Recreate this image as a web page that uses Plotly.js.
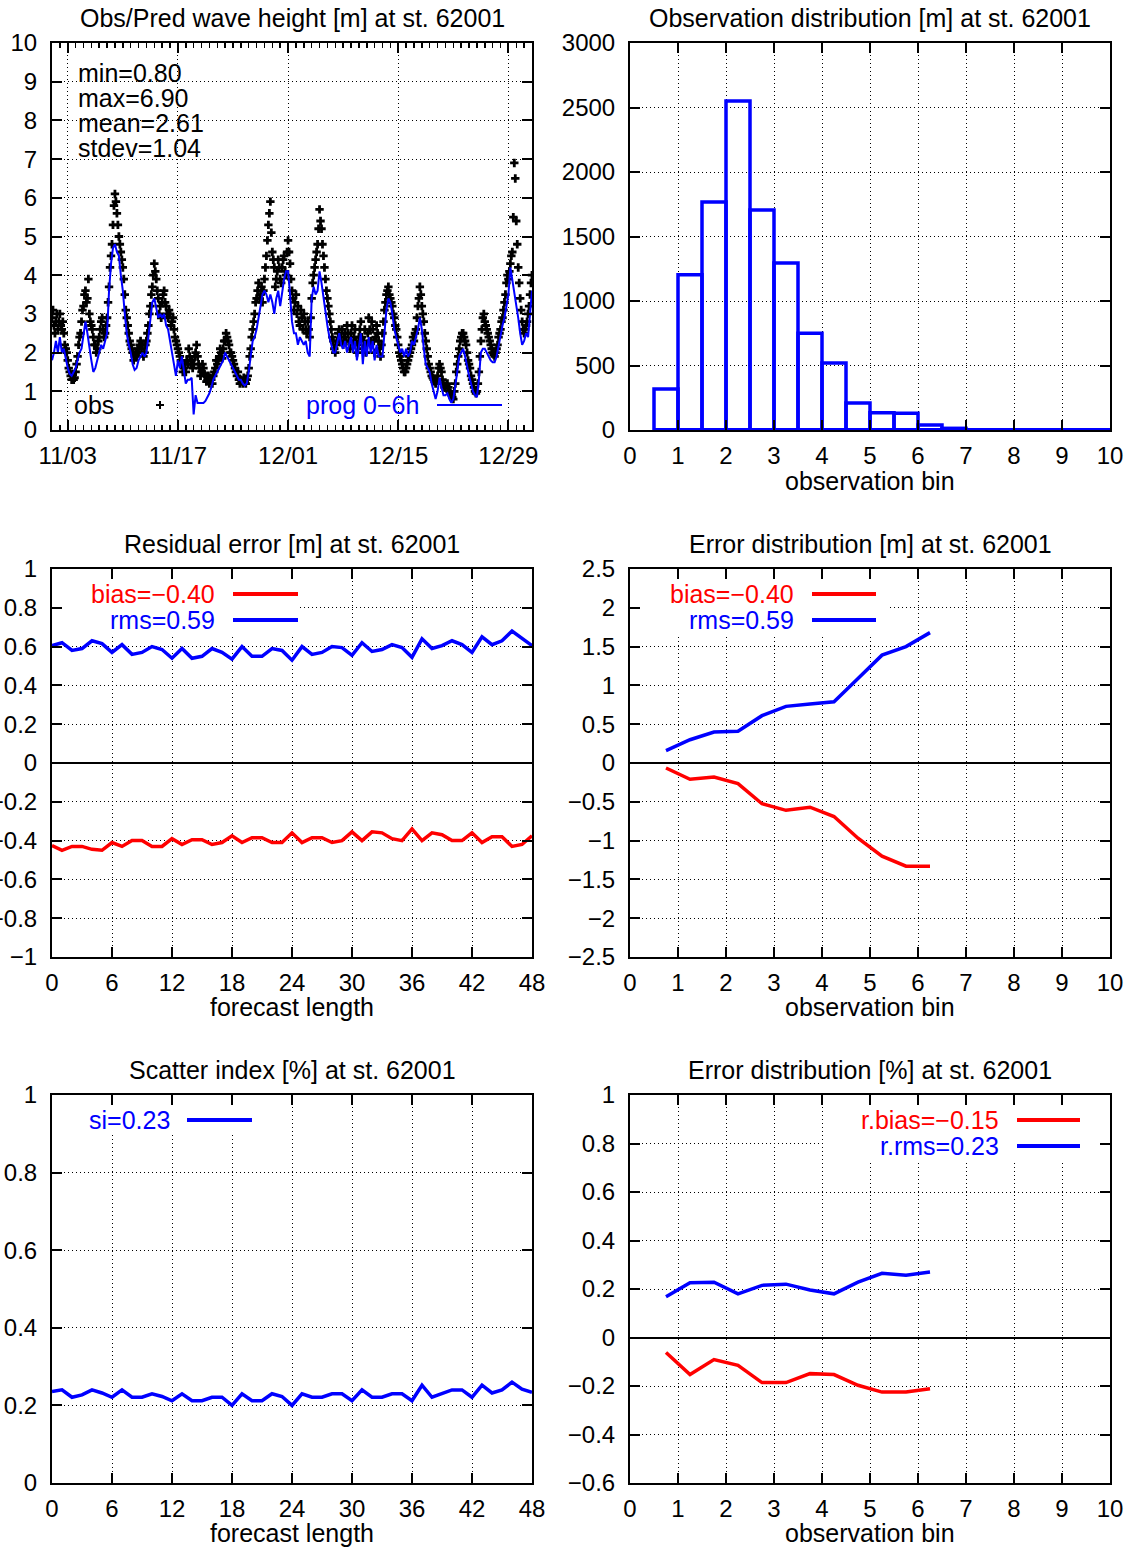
<!DOCTYPE html>
<html>
<head>
<meta charset="utf-8">
<script src="https://cdn.plot.ly/plotly-3.0.1.min.js"></script>
<style>
  html, body { margin: 0; padding: 0; background: #fff; }
  #chart { width: 1137px; height: 1548px; }
</style>
</head>
<body>
<div id="chart"></div>
<script>
// station 62001 verification, Nov-Dec

// obs / prog 0-6h wave height, one value every 6 hours from 11/01 00h
const seriesStart = Date.UTC(2011, 10, 1);
const stepHours = 6;
const obsHs = [
  2.9,2.7,2.8,2.6, // 11/01
  3.0,2.6,2.5,2.1,
  1.8,1.5,1.3,1.3,
  1.5,1.9,2.4,2.8,
  3.2,3.6,3.4,3.0, // 11/05
  2.7,2.4,2.2,2.1,
  2.4,2.8,2.6,2.5,
  2.9,3.7,4.5,5.3,
  6.1,5.6,5.0,4.6,
  4.2,3.5,2.9,2.5, // 11/10
  2.2,2.0,1.9,1.9,
  2.0,2.3,2.2,2.0,
  2.3,2.7,3.2,3.7,
  4.3,3.9,3.4,3.2,
  3.3,3.6,3.2,2.9, // 11/15
  3.0,2.8,2.6,2.3,
  2.1,1.9,1.7,1.6,
  1.5,1.7,1.9,1.8,
  1.7,2.0,1.9,1.6,
  1.5,1.6,1.4,1.3, // 11/20
  1.2,1.3,1.4,1.6,
  1.7,1.9,2.0,2.1,
  2.3,2.4,2.2,2.0,
  1.8,1.6,1.4,1.3,
  1.3,1.2,1.25,1.3, // 11/25
  1.6,2.1,2.6,3.0,
  3.4,3.8,3.5,3.3,
  3.9,4.5,5.3,5.9,
  4.6,4.2,3.9,4.4,
  3.9,4.2,4.5,4.0, // 11/30
  4.9,4.3,3.6,3.1, // 12/01
  3.5,3.2,2.7,2.9,
  3.0,2.6,2.8,2.4,
  3.4,4.0,4.4,4.8,
  5.7,5.2,4.5,3.9, // 12/05
  3.4,3.0,2.6,2.3,
  2.0,2.3,2.6,2.4,
  2.2,2.5,2.7,2.3,
  2.5,2.2,2.6,2.0,
  2.4,2.8,2.1,2.6, // 12/10
  2.2,2.9,2.3,2.6,
  2.0,2.7,2.3,1.9,
  2.5,3.1,3.5,3.7,
  3.4,3.2,2.9,2.6,
  2.2,1.9,1.7,1.5, // 12/15
  1.6,1.8,2.0,2.2,
  2.3,2.6,3.2,3.7,
  3.2,2.8,2.3,1.9,
  1.6,1.4,1.3,1.2,
  1.4,1.7,1.5,1.2, // 12/20
  1.1,1.2,1.0,0.9,
  0.8,1.2,1.7,2.1,
  2.4,2.5,2.3,2.0,
  1.7,1.4,1.2,1.0,
  1.0,1.5,2.3,2.9, // 12/25
  2.8,2.6,2.4,2.2,
  2.0,1.9,2.1,2.4,
  2.6,2.9,3.3,3.8,
  3.9,4.3,4.6,6.9,
  5.4,4.2,3.4,2.8, // 12/30
  2.5,2.7,3.0,3.5,
  4.0
];
// obs in between, at 03h, 09h, 15h and 21h
const obsHsMid = [
  3.1,2.5,3.0,2.8, // 11/01
  2.7,2.8,2.2,2.0,
  1.6,1.4,1.45,1.35,
  1.7,2.2,2.5,3.1,
  3.5,3.3,3.9,2.8, // 11/05
  2.6,2.2,2.0,2.3,
  2.6,2.9,2.4,2.7,
  3.3,4.2,4.8,5.8,
  5.9,5.3,4.8,4.4,
  3.9,3.1,2.7,2.3, // 11/10
  2.1,1.8,2.0,2.1,
  2.2,2.1,1.9,2.2,
  2.5,3.0,3.5,4.0,
  4.1,3.6,3.0,2.9,
  3.5,3.3,3.0,3.1, // 11/15
  2.7,2.9,2.4,2.2,
  2.0,1.8,1.5,1.7,
  1.8,2.1,1.7,1.6,
  1.9,2.2,1.7,1.4,
  1.7,1.45,1.25,1.4, // 11/20
  1.35,1.2,1.5,1.8,
  1.8,2.1,1.85,2.3,
  2.5,2.3,2.0,1.9,
  1.7,1.5,1.5,1.2,
  1.25,1.35,1.2,1.4, // 11/25
  1.9,2.4,2.8,3.3,
  3.6,3.4,3.7,3.6,
  4.2,4.9,5.6,5.1,
  4.4,3.7,4.1,4.2,
  3.8,4.4,4.1,4.6, // 11/30
  4.6,3.9,3.4,3.3, // 12/01
  3.0,2.8,3.1,2.6,
  2.8,2.5,2.6,2.9,
  3.8,4.2,4.6,5.2,
  5.4,4.8,4.2,3.6, // 12/05
  3.2,2.8,2.4,2.1,
  2.2,2.5,2.3,2.6,
  2.4,2.3,2.5,2.1,
  2.7,2.4,2.3,2.2,
  2.6,2.4,2.3,2.0, // 12/10
  2.5,2.6,2.8,2.3,
  2.4,2.5,2.1,2.2,
  2.8,3.3,3.6,3.5,
  3.3,3.0,2.7,2.4,
  2.0,1.8,1.6,1.5, // 12/15
  1.7,1.9,2.1,2.4,
  2.5,2.9,3.4,3.5,
  3.0,2.5,2.1,1.7,
  1.5,1.35,1.25,1.3,
  1.6,1.6,1.3,1.1, // 12/20
  1.15,1.1,0.95,0.85,
  1.0,1.5,1.9,2.3,
  2.5,2.4,2.2,1.8,
  1.6,1.3,1.1,0.95,
  1.2,1.9,2.6,3.0, // 12/25
  2.7,2.5,2.3,2.1,
  1.95,2.0,2.2,2.5,
  2.8,3.1,3.5,4.0,
  4.1,4.5,5.5,6.5,
  4.8,3.8,3.1,2.6, // 12/30
  2.6,2.8,3.2,3.8
];
const progHs = [
  1.8,2.0,2.3,2.0, // 11/01
  2.4,2.0,2.1,1.8,
  1.6,1.45,1.4,1.5,
  1.6,1.8,2.0,2.1,
  2.5,2.8,2.5,2.1, // 11/05
  1.8,1.5,1.6,1.8,
  2.0,2.2,2.1,2.3,
  2.5,3.6,4.3,4.7,
  4.8,4.6,4.5,4.0,
  3.6,3.0,2.5,2.2, // 11/10
  2.0,1.7,1.55,1.6,
  1.8,1.9,2.0,1.9,
  2.0,2.4,2.9,3.3,
  3.4,3.1,2.9,3.0,
  2.9,3.0,2.7,2.6, // 11/15
  2.3,2.0,1.7,1.4,
  1.8,1.6,1.9,1.5,
  1.2,1.3,1.3,1.35,
  0.4,0.9,0.7,0.7,
  0.7,0.7,0.75,0.85, // 11/20
  0.95,1.1,1.3,1.4,
  1.5,1.6,1.7,1.8,
  2.0,1.9,1.8,1.7,
  1.6,1.5,1.4,1.3,
  1.3,1.2,1.15,1.2, // 11/25
  1.5,1.9,2.3,2.4,
  2.6,2.9,3.2,3.5,
  3.6,3.5,3.3,3.5,
  3.3,3.0,3.4,3.6,
  3.2,3.6,3.9,4.1, // 11/30
  4.1,3.5,2.8,2.5, // 12/01
  2.5,2.2,2.4,2.3,
  2.2,2.3,2.0,1.9,
  3.4,3.7,3.5,3.6,
  4.1,3.8,3.4,3.0, // 12/05
  2.7,2.4,2.2,2.0,
  2.0,2.3,2.5,2.2,
  2.1,2.3,2.0,2.2,
  2.4,2.0,2.3,1.8,
  2.1,2.5,1.7,2.3, // 12/10
  1.9,2.4,2.0,2.3,
  1.8,2.2,1.9,1.9,
  1.9,2.5,3.1,3.4,
  3.3,3.0,2.6,2.4,
  2.2,2.0,2.1,1.9, // 12/15
  2.1,1.9,2.0,2.3,
  2.2,2.4,2.6,2.9,
  2.6,2.1,1.7,1.6,
  1.5,1.2,1.0,0.8,
  1.0,1.35,1.1,0.9, // 12/20
  0.9,0.95,0.8,0.7,
  0.8,1.1,1.5,1.9,
  2.0,2.1,1.9,1.6,
  1.4,1.2,1.0,0.9,
  0.85,1.3,2.0,2.1, // 12/25
  2.1,2.0,1.9,1.8,
  1.75,1.75,1.9,2.2,
  2.4,2.7,2.9,3.2,
  3.5,4.2,3.9,3.6,
  3.2,2.9,2.5,2.2, // 12/30
  2.3,2.5,2.4,3.0,
  3.6
];
const statLines = ['min=0.80', 'max=6.90', 'mean=2.61', 'stdev=1.04'];

// observation histogram, 0.5 m bins
const histCenters = [0.75,1.25,1.75,2.25,2.75,3.25,3.75,4.25,4.75,5.25,5.75,6.25,6.75,7.25,7.75,8.25,8.75,9.25,9.75];
const histCounts  = [318,1204,1767,2550,1705,1294,750,520,209,134,130,39,13,0,0,0,0,0,0];
const histWidth = 0.5;

// residual error vs forecast length (hours 0..48)
const leadBias = [-0.425,-0.45,-0.43,-0.43,-0.445,-0.45,-0.41,-0.43,-0.40,-0.40,-0.43,-0.43,-0.39,-0.42,-0.395,-0.395,-0.42,-0.41,-0.375,-0.41,-0.385,-0.385,-0.41,-0.41,-0.36,-0.41,-0.385,-0.385,-0.41,-0.40,-0.355,-0.40,-0.355,-0.36,-0.39,-0.40,-0.34,-0.40,-0.36,-0.37,-0.40,-0.40,-0.36,-0.41,-0.38,-0.38,-0.43,-0.42,-0.375];
const leadRms  = [0.605,0.62,0.58,0.59,0.63,0.615,0.57,0.61,0.56,0.57,0.60,0.585,0.54,0.59,0.54,0.55,0.59,0.57,0.535,0.60,0.55,0.55,0.59,0.58,0.53,0.60,0.56,0.57,0.60,0.595,0.555,0.62,0.575,0.585,0.61,0.595,0.545,0.64,0.59,0.605,0.63,0.61,0.57,0.65,0.61,0.63,0.68,0.645,0.605];
const leadSi   = [0.236,0.240,0.221,0.227,0.240,0.232,0.221,0.240,0.221,0.221,0.230,0.223,0.212,0.230,0.212,0.212,0.221,0.221,0.200,0.230,0.212,0.212,0.230,0.223,0.200,0.230,0.221,0.221,0.230,0.230,0.212,0.240,0.221,0.221,0.230,0.230,0.212,0.252,0.221,0.230,0.240,0.240,0.221,0.252,0.232,0.240,0.260,0.242,0.234];
const leadHours = leadBias.map((v, i) => i);

// error vs observation bin
const binCenters = [0.75,1.25,1.75,2.25,2.75,3.25,3.75,4.25,4.75,5.25,5.75,6.25];
const binBias  = [-0.065,-0.21,-0.18,-0.265,-0.525,-0.61,-0.57,-0.69,-0.97,-1.20,-1.33,-1.33];
const binRms   = [0.16,0.30,0.40,0.41,0.61,0.73,0.76,0.79,1.09,1.39,1.50,1.68];
const binRBias = [-0.062,-0.153,-0.091,-0.115,-0.186,-0.186,-0.149,-0.153,-0.197,-0.225,-0.225,-0.211];
const binRRms  = [0.168,0.226,0.228,0.180,0.215,0.220,0.196,0.180,0.228,0.265,0.257,0.270];

const W = 1137, H = 1548;
const fontFam = 'Liberation Sans, Arial, Helvetica, sans-serif';
const RED = '#ff0000', BLUE = '#0000ff';

function px(x) { return x / W; }
function py(y) { return 1 - y / H; }

const colL = [px(52), px(532)], colR = [px(630), px(1110)];
const rowT = [py(430), py(43)], rowM = [py(957), py(569)], rowB = [py(1483), py(1095)];

function ax(extra) {
  return Object.assign({
    showline: true, mirror: 'allticks', linecolor: 'black', linewidth: 2,
    ticks: 'inside', ticklen: 10, tickwidth: 2, tickcolor: 'black',
    ticklabelstandoff: 8,
    showgrid: true, gridcolor: '#000', gridwidth: 1, griddash: '1px,3px',
    zeroline: false, tickfont: {family: fontFam, size: 24, color: 'black'},
    fixedrange: true
  }, extra);
}
function xax(extra) { return ax(Object.assign({ticklabelstandoff: 3}, extra)); }

const hour = 3600e3;
const obsTimes = obsHs.map((v, i) => seriesStart + i * stepHours * hour);
const obsMidTimes = obsHsMid.map((v, i) => seriesStart + (i * stepHours + 3) * hour);
const progTimes = progHs.map((v, i) => seriesStart + i * stepHours * hour);
const histEdges = [histCenters[0] - histWidth / 2, histCenters[histCenters.length - 1] + histWidth / 2];
const plusMarker = {symbol: 'cross', size: 7, color: 'black'};

const data = [
  {x: obsTimes, y: obsHs, xaxis: 'x', yaxis: 'y', mode: 'markers', type: 'scatter', marker: plusMarker},
  {x: obsMidTimes, y: obsHsMid, xaxis: 'x', yaxis: 'y', mode: 'markers', type: 'scatter', marker: plusMarker},
  {x: progTimes, y: progHs, xaxis: 'x', yaxis: 'y', mode: 'lines', type: 'scatter',
   line: {color: BLUE, width: 2}},

  {x: histCenters, y: histCounts, xaxis: 'x2', yaxis: 'y2', type: 'bar', width: histWidth,
   marker: {color: 'rgba(0,0,0,0)', line: {color: BLUE, width: 3.5}}},
  {x: histEdges, y: [0, 0], xaxis: 'x2', yaxis: 'y2', mode: 'lines', type: 'scatter',
   line: {color: BLUE, width: 4}, cliponaxis: false},

  {x: leadHours, y: leadBias, xaxis: 'x3', yaxis: 'y3', mode: 'lines', line: {color: RED, width: 3.5}},
  {x: leadHours, y: leadRms, xaxis: 'x3', yaxis: 'y3', mode: 'lines', line: {color: BLUE, width: 3.5}},

  {x: binCenters, y: binBias, xaxis: 'x4', yaxis: 'y4', mode: 'lines', line: {color: RED, width: 3.5}},
  {x: binCenters, y: binRms, xaxis: 'x4', yaxis: 'y4', mode: 'lines', line: {color: BLUE, width: 3.5}},

  {x: leadHours, y: leadSi, xaxis: 'x5', yaxis: 'y5', mode: 'lines', line: {color: BLUE, width: 3.5}},

  {x: binCenters, y: binRBias, xaxis: 'x6', yaxis: 'y6', mode: 'lines', line: {color: RED, width: 3.5}},
  {x: binCenters, y: binRRms, xaxis: 'x6', yaxis: 'y6', mode: 'lines', line: {color: BLUE, width: 3.5}}
];

function txt(text, x, y, color, anchor) {
  return {text: text, x: px(x), y: py(y), xref: 'paper', yref: 'paper',
          xanchor: anchor || 'center', yanchor: 'middle', showarrow: false,
          font: {family: fontFam, size: 25, color: color || 'black'}};
}
function keyLine(x0, x1, y, color, w) {
  return {type: 'line', xref: 'paper', yref: 'paper', x0: px(x0), x1: px(x1), y0: py(y), y1: py(y),
          line: {color: color, width: w || 4}};
}
// white patch behind a key, hides the grid there
function keyBox(xa, ya, x0, x1, y0, y1) {
  return {type: 'rect', xref: xa, yref: ya, x0: x0, x1: x1, y0: y0, y1: y1,
          layer: 'between', fillcolor: 'white', line: {width: 0}};
}

const annotations = [
  txt('Obs/Pred wave height [m] at st. 62001', 292, 18),
  txt('Observation distribution [m] at st. 62001', 870, 18),
  txt('Residual error [m] at st. 62001', 292, 544),
  txt('Error distribution [m] at st. 62001', 870, 544),
  txt('Scatter index [%] at st. 62001', 292, 1070),
  txt('Error distribution [%] at st. 62001', 870, 1070),
  txt('observation bin', 870, 481),
  txt('forecast length', 292, 1007),
  txt('observation bin', 870, 1007),
  txt('forecast length', 292, 1533),
  txt('observation bin', 870, 1533),
  txt('obs', 72, 405, 'black', 'left'),
  txt('prog 0\u22126h', 421, 405, BLUE, 'right'),
  txt('bias=\u22120.40', 217, 594, RED, 'right'),
  txt('rms=0.59', 217, 620, BLUE, 'right'),
  txt('bias=\u22120.40', 796, 594, RED, 'right'),
  txt('rms=0.59', 796, 620, BLUE, 'right'),
  txt('si=0.23', 172, 1120, BLUE, 'right'),
  txt('r.bias=\u22120.15', 1001, 1120, RED, 'right'),
  txt('r.rms=0.23', 1001, 1146, BLUE, 'right')
];
statLines.forEach((s, i) => annotations.push(txt(s, 76, 73 + i * 25, 'black', 'left')));

const shapes = [
  keyBox('x3', 'y3', 0, 24.8, 0.66, 1),
  keyBox('x4', 'y4', 0, 5.4, 1.65, 2.5),
  keyBox('x5', 'y5', 0, 20.6, 0.9, 1),
  keyBox('x6', 'y6', 4.05, 10, 0.723, 1),
  keyLine(437, 502, 405, BLUE, 2),
  keyLine(156, 164, 405, 'black', 2),
  {type: 'line', xref: 'paper', yref: 'paper', x0: px(160), x1: px(160), y0: py(401), y1: py(409),
   line: {color: 'black', width: 2}},
  keyLine(233, 298, 594, RED),
  keyLine(233, 298, 620, BLUE),
  keyLine(812, 876, 594, RED),
  keyLine(812, 876, 620, BLUE),
  keyLine(187, 252, 1120, BLUE),
  keyLine(1017, 1080, 1120, RED),
  keyLine(1017, 1080, 1146, BLUE)
];

const layout = {
  width: W, height: H,
  margin: {l: 0, r: 0, t: 0, b: 0},
  paper_bgcolor: 'white', plot_bgcolor: 'white',
  showlegend: false,
  font: {family: fontFam, size: 24, color: 'black'},
  xaxis: xax({domain: colL, anchor: 'y', type: 'date', range: ['2011-11-01', '2012-01-01'],
              tick0: '2011-11-03', dtick: 14 * 864e5, tickformat: '%m/%d',
              minor: {dtick: 864e5, tick0: '2011-11-01', ticks: 'inside', ticklen: 5,
                      tickwidth: 1.5, tickcolor: 'black', showgrid: false}}),
  yaxis: ax({domain: rowT, anchor: 'x', range: [0, 10], dtick: 1}),
  xaxis2: xax({domain: colR, anchor: 'y2', range: [0, 10], dtick: 1}),
  yaxis2: ax({domain: rowT, anchor: 'x2', range: [0, 3000], dtick: 500}),
  xaxis3: xax({domain: colL, anchor: 'y3', range: [0, 48], dtick: 6}),
  yaxis3: ax({domain: rowM, anchor: 'x3', range: [-1, 1], dtick: 0.2,
              zeroline: true, zerolinecolor: 'black', zerolinewidth: 2}),
  xaxis4: xax({domain: colR, anchor: 'y4', range: [0, 10], dtick: 1}),
  yaxis4: ax({domain: rowM, anchor: 'x4', range: [-2.5, 2.5], dtick: 0.5,
              zeroline: true, zerolinecolor: 'black', zerolinewidth: 2}),
  xaxis5: xax({domain: colL, anchor: 'y5', range: [0, 48], dtick: 6}),
  yaxis5: ax({domain: rowB, anchor: 'x5', range: [0, 1], dtick: 0.2}),
  xaxis6: xax({domain: colR, anchor: 'y6', range: [0, 10], dtick: 1}),
  yaxis6: ax({domain: rowB, anchor: 'x6', range: [-0.6, 1], dtick: 0.2,
              zeroline: true, zerolinecolor: 'black', zerolinewidth: 2}),
  annotations: annotations,
  shapes: shapes
};

Plotly.newPlot('chart', data, layout, {staticPlot: true, displayModeBar: false});
</script>
</body>
</html>
